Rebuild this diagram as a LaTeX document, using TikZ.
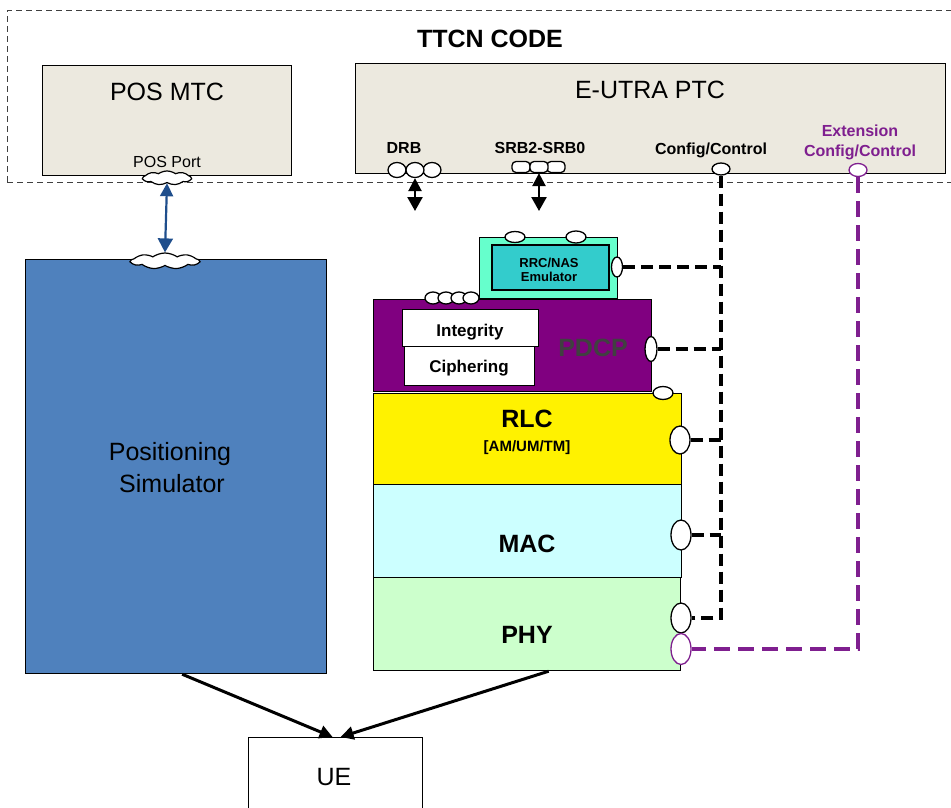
\documentclass[tikz,border=0pt]{standalone}
\usepackage{fontspec}
\setmainfont{Liberation Sans}
\usetikzlibrary{arrows.meta,shapes.geometric,shapes.symbols,calc}
\definecolor{beige}{HTML}{ECE9DF}
\definecolor{simblue}{HTML}{4F81BD}
\definecolor{posblue}{HTML}{1F4E8C}
\definecolor{pdcppurple}{HTML}{800080}
\definecolor{macblue}{HTML}{CCFFFF}
\definecolor{phygreen}{HTML}{CCFFCC}
\definecolor{rrcout}{HTML}{66FFCC}
\definecolor{rrcin}{HTML}{33CCCC}
\definecolor{extpurple}{HTML}{7F1F8F}
\begin{document}
\begin{tikzpicture}[x=1pt,y=-1pt,
  box/.style={draw, line width=1.2pt, inner sep=0pt, anchor=north west},
  port/.style={draw, fill=white, ellipse, inner sep=0pt, line width=1.3pt},
  srbport/.style={draw, fill=white, rounded corners=4pt, inner sep=0pt, line width=1.3pt, minimum width=18pt, minimum height=11pt},
  cloudport/.style={draw, fill=white, cloud, cloud puffs=9, cloud puff arc=70, inner sep=0pt, line width=1.2pt},
  lbl/.style={anchor=base, inner sep=0pt},
  big/.style={font=\fontsize{25}{28}\selectfont},
  bigb/.style={font=\fontsize{25}{28}\selectfont\bfseries},
  mid/.style={font=\fontsize{16}{18}\selectfont\bfseries},
  ctrl/.style={line width=4pt, dash pattern=on 12pt off 6pt},
  extctrl/.style={line width=4pt, dash pattern=on 16pt off 8pt, draw=extpurple},
  dblarrow/.style={line width=2.5pt, {Triangle[length=13pt,width=13pt]}-{Triangle[length=14pt,width=15pt]}},
  uearrow/.style={line width=3pt, -{Triangle[length=13pt,width=13pt]}}
]
\useasboundingbox (0,0) rectangle (951,808);
% TTCN code area
\draw[line width=1pt, dash pattern=on 6pt off 4pt, draw=black!75] (7,182) -- (7,11) -- (960,11) (7,182) -- (960,182);
\node[lbl, bigb] (ttcn) at (490,48) {TTCN CODE};
\node[box, fill=beige, minimum width=249pt, minimum height=110pt] (mtc) at (42,65) {};
\node[box, fill=beige, minimum width=590pt, minimum height=110pt] (ptc) at (355,63) {};
\node[lbl, big] (mtct) at (167,100) {POS MTC};
\node[lbl, big] (ptct) at (650,99) {E-UTRA PTC};
\node[lbl, font=\fontsize{16}{18}\selectfont] (posportt) at (167,167) {POS Port};
\node[lbl, mid] (drbt) at (404,153) {DRB};
\node[lbl, mid] (srbt) at (540,153) {SRB2-SRB0};
\node[lbl, mid] (cfgt) at (711,154) {Config/Control};
\node[lbl, mid, text=extpurple] (ext1) at (860,136) {Extension};
\node[lbl, mid, text=extpurple] (ext2) at (860,156) {Config/Control};

% positioning simulator
\node[box, fill=simblue, minimum width=301pt, minimum height=414pt] (sim) at (25,259) {};
\node[lbl, big] (simt1) at (170,460) {Positioning};
\node[lbl, big] (simt2) at (172,492) {Simulator};

% RRC/NAS emulator
\node[box, fill=rrcout, minimum width=138pt, minimum height=61pt] (rrc) at (479,237) {};
\node[box, fill=rrcin, line width=1.5pt, minimum width=117pt, minimum height=45pt] (rrci) at (491,244) {};
\node[lbl, font=\fontsize{13}{15}\selectfont\bfseries] (rrct1) at (549,267) {RRC/NAS};
\node[lbl, font=\fontsize{13}{15}\selectfont\bfseries] (rrct2) at (549,281) {Emulator};

% PDCP
\node[box, fill=pdcppurple, minimum width=278pt, minimum height=92pt] (pdcp) at (373,299) {};
\node[box, fill=white, minimum width=136pt, minimum height=37pt] (integ) at (402,309) {};
\node[box, fill=white, minimum width=130pt, minimum height=39pt] (ciph) at (404,346) {};
\node[lbl, font=\fontsize{17}{19}\selectfont\bfseries] (integt) at (470,336) {Integrity};
\node[lbl, font=\fontsize{17}{19}\selectfont\bfseries] (ciplt) at (469,372) {Ciphering};
\node[lbl, bigb, text=black!75] (pdcpt) at (593,356) {PDCP};

% RLC / MAC / PHY
\node[box, fill=yellow, minimum width=308pt, minimum height=91pt] (rlc) at (373,393) {};
\node[box, fill=macblue, minimum width=308pt, minimum height=93pt] (mac) at (373,484) {};
\node[box, fill=phygreen, minimum width=307pt, minimum height=93pt] (phy) at (373,577) {};
\node[lbl, bigb] (rlct) at (527,427) {RLC};
\node[lbl, font=\fontsize{15}{17}\selectfont\bfseries] (rlct2) at (527,451) {[AM/UM/TM]};
\node[lbl, bigb] (mact) at (527,552) {MAC};
\node[lbl, bigb] (phyt) at (527,643) {PHY};

% UE
\node[box, fill=white, minimum width=174pt, minimum height=100pt] (ue) at (248,737) {};
\node[lbl, big] (uet) at (334,785) {UE};

% ports
\node[cloudport, minimum width=48pt, minimum height=14pt] (posport) at (167,178) {};
\node[cloudport, minimum width=68pt, minimum height=16pt] (simport) at (165,261) {};
\node[port, minimum width=18pt, minimum height=15pt] (drb1) at (397,170) {};
\node[port, minimum width=18pt, minimum height=15pt] (drb3) at (432,170) {};
\node[port, minimum width=18pt, minimum height=15pt] (drb2) at (415,170) {};
\node[srbport] (srb1) at (521,167) {};
\node[srbport] (srb3) at (556,167) {};
\node[srbport] (srb2) at (539,167) {};
\node[port, minimum width=18pt, minimum height=12pt] (cfgport) at (721,169) {};
\node[port, draw=extpurple, minimum width=18pt, minimum height=13pt] (extport) at (858,170) {};
\node[port, minimum width=20pt, minimum height=11pt] (rrcp1) at (515,237) {};
\node[port, minimum width=20pt, minimum height=12pt] (rrcp2) at (576,237) {};
\node[port, minimum width=11pt, minimum height=20pt] (rrcr) at (617,267) {};
\node[port, minimum width=16pt, minimum height=12pt] (pd1) at (433,298) {};
\node[port, minimum width=16pt, minimum height=12pt] (pd2) at (446,298) {};
\node[port, minimum width=16pt, minimum height=12pt] (pd3) at (459,298) {};
\node[port, minimum width=16pt, minimum height=12pt] (pd4) at (471,298) {};
\node[port, minimum width=12pt, minimum height=25pt] (pdcpr) at (651,349) {};
\node[port, minimum width=20pt, minimum height=13pt] (rlctop) at (663,393) {};
\node[port, minimum width=20pt, minimum height=28pt] (rlcr) at (680,440) {};
\node[port, minimum width=20pt, minimum height=30pt] (macr) at (681,535) {};
\node[port, minimum width=20pt, minimum height=30pt] (phyr) at (681,618) {};
\node[port, draw=extpurple, minimum width=20pt, minimum height=31pt] (phyx) at (681,649) {};

% connectors
\coordinate (drbend) at (415,211);
\coordinate (srbend) at (539,211);
\draw[dblarrow] (drb2.south) -- (drbend);
\draw[dblarrow] (srb2.south) -- (srbend);
\draw[dblarrow, draw=posblue, fill=posblue, line width=2.2pt] (posport.south) -- (simport.north);

\draw[ctrl] (cfgport.south) |- (phyr.east);
\draw[ctrl] (rrcr.east) -- (rrcr.east -| cfgport.south);
\draw[ctrl] (pdcpr.east) -- (pdcpr.east -| cfgport.south);
\draw[ctrl] (rlcr.east) -- (rlcr.east -| cfgport.south);
\draw[ctrl] (macr.east) -- (macr.east -| cfgport.south);
\draw[extctrl] (extport.south) |- (phyx.east);

\draw[uearrow] ($(sim.south west)!0.52!(sim.south east)$) -- ($(ue.north)+(-3,0)$);
\draw[uearrow] ($(phy.south west)!0.57!(phy.south east)$) -- ($(ue.north)+(5,0)$);
\end{tikzpicture}
\end{document}
